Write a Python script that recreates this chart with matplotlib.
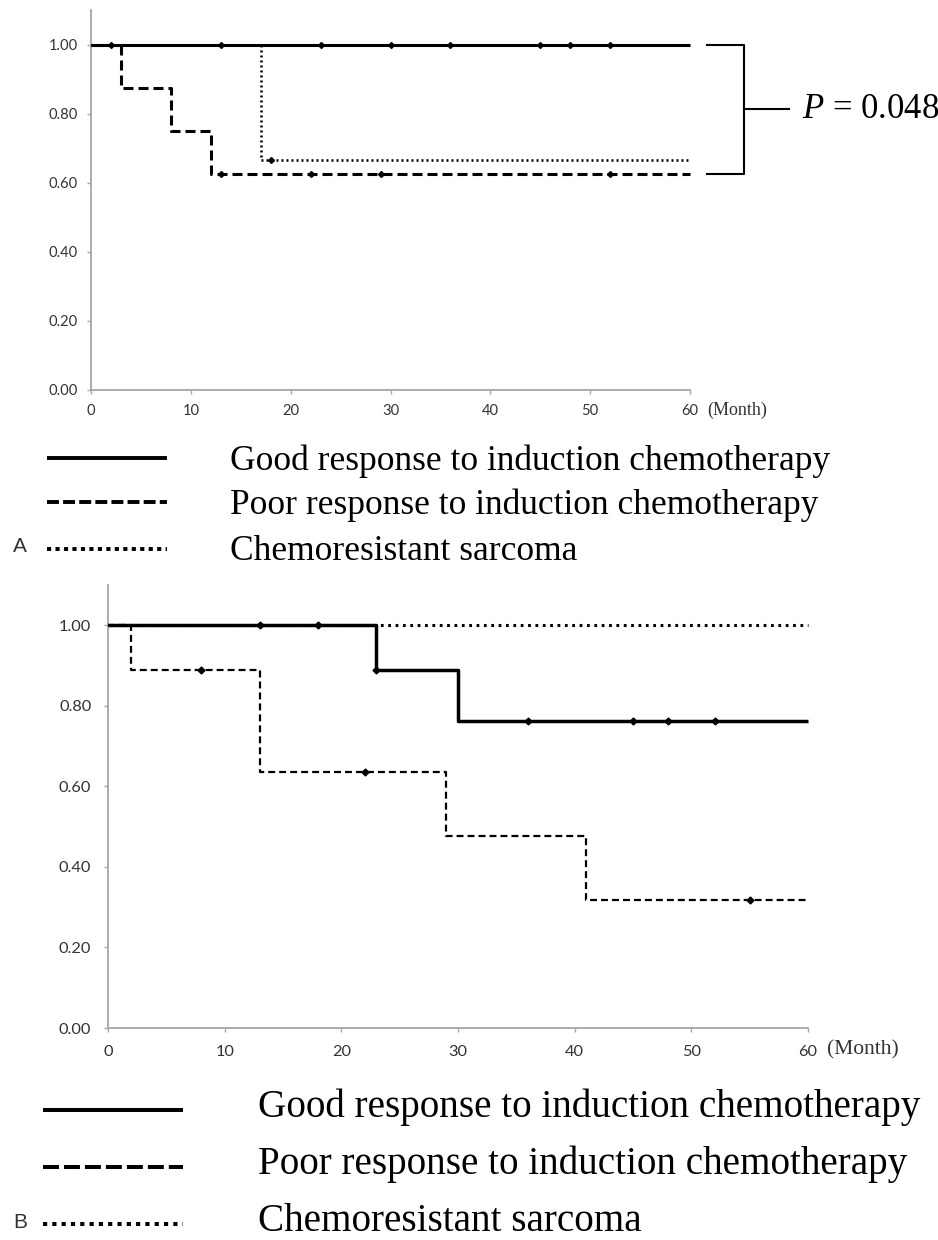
import numpy as np
import matplotlib
matplotlib.use("Agg")
import matplotlib.pyplot as plt
from matplotlib.lines import Line2D

plt.rcParams['lines.scale_dashes'] = False
plt.rcParams['mathtext.fontset'] = 'custom'
plt.rcParams['mathtext.rm'] = 'Liberation Serif'
plt.rcParams['mathtext.it'] = 'Liberation Serif:italic'

# ---------------- data ----------------
x_ticks = [0, 10, 20, 30, 40, 50, 60]
y_ticks = [0.0, 0.2, 0.4, 0.6, 0.8, 1.0]
y_ticklabels = ["0.00", "0.20", "0.40", "0.60", "0.80", "1.00"]
legend_labels = ["Good response to induction chemotherapy",
                 "Poor response to induction chemotherapy",
                 "Chemoresistant sarcoma"]

# Panel A
a_good_t = [0, 60]
a_good_s = [1.0, 1.0]
a_good_cens = [2, 13, 23, 30, 36, 45, 48, 52]
a_poor_t = [0, 3, 8, 12, 60]
a_poor_s = [1.0, 0.875, 0.75, 0.625, 0.625]
a_poor_cens = [13, 22, 29, 52]
a_chemo_t = [0, 17, 60]
a_chemo_s = [1.0, 0.667, 0.667]
a_chemo_cens = [18]
p_text = r"$\it{P}$ = 0.048"

# Panel B
b_good_t = [0, 23, 30, 60]
b_good_s = [1.0, 0.889, 0.762, 0.762]
b_good_cens = [13, 18, 23, 36, 45, 48, 52]
b_poor_t = [0, 2, 13, 29, 41, 60]
b_poor_s = [1.0, 0.889, 0.635, 0.476, 0.317, 0.317]
b_poor_cens = [8, 22, 55]
b_chemo_t = [0, 60]
b_chemo_s = [1.0, 1.0]
b_chemo_cens = []


def step_at(t, s, x):
    idx = np.searchsorted(np.asarray(t), x, side='right') - 1
    return np.asarray(s)[idx]


W, H = 938, 1240
fig = plt.figure(figsize=(W / 100, H / 100), dpi=100)


def fx(px):
    return px / W


def fy(py):
    return 1 - py / H


AX_GRAY = "#a6a6a6"
TXT_GRAY = "#333333"


def style_axes(ax, fs, ypad, xpad):
    ax.set_xlim(0, 60)
    ax.set_ylim(0, 1.1)
    for sp in ("top", "right"):
        ax.spines[sp].set_visible(False)
    for sp in ("left", "bottom"):
        ax.spines[sp].set_color(AX_GRAY)
        ax.spines[sp].set_linewidth(1.3)
    ax.set_xticks(x_ticks)
    ax.set_xticklabels([str(v) for v in x_ticks])
    ax.set_yticks(y_ticks)
    ax.set_yticklabels(y_ticklabels)
    ax.tick_params(axis='both', direction='out', length=3, width=1, color=AX_GRAY,
                   labelcolor=TXT_GRAY, labelsize=fs)
    ax.tick_params(axis='y', pad=ypad)
    ax.tick_params(axis='x', pad=xpad)
    for lab in ax.get_xticklabels() + ax.get_yticklabels():
        lab.set_fontfamily("Lato")
    ax.patch.set_visible(False)


def km(ax, t, s, cens, lw, ls, ms):
    ax.step(t, s, where='post', color='black', lw=lw, linestyle=ls,
            solid_capstyle='butt', dash_capstyle='butt', clip_on=False, zorder=3)
    if len(cens):
        cy = [step_at(t, s, c) for c in cens]
        ax.plot(cens, cy, linestyle='none', marker='D', markersize=ms,
                color='black', clip_on=False, zorder=4)


# ---------- Panel A ----------
axA = fig.add_axes([fx(91), fy(390), fx(690) - fx(91), fy(10) - fy(390)])
style_axes(axA, 10.6, 6.5, 7)
km(axA, a_chemo_t, a_chemo_s, a_chemo_cens, 1.9, (0, (1.4, 2.2)), 3)
km(axA, a_poor_t, a_poor_s, a_poor_cens, 2.2, (0, (7.2, 3.6)), 3)
km(axA, a_good_t, a_good_s, a_good_cens, 2.2, '-', 3)

# bracket with p-value
axA.plot([61.7, 65.4, 65.4, 61.7], [a_good_s[0], a_good_s[0], a_poor_s[-1], a_poor_s[-1]],
         color='black', lw=1.5, clip_on=False)
mid = (a_good_s[0] + a_poor_s[-1]) / 2
axA.plot([65.4, 69.9], [mid, mid], color='black', lw=1.5, clip_on=False)
axA.text(71.2, mid, p_text, fontsize=25, family="Liberation Serif",
         va='center', ha='left', color='black')
axA.text(61.7, -0.058, "(Month)", fontsize=13, family="Liberation Serif",
         va='center', ha='left', color=TXT_GRAY)

# ---------- Panel B ----------
axB = fig.add_axes([fx(108), fy(1028), fx(808) - fx(108), fy(585) - fy(1028)])
style_axes(axB, 11.8, 9, 9)
km(axB, b_chemo_t, b_chemo_s, b_chemo_cens, 2.2, (0, (2.0, 3.3)), 3.5)
km(axB, b_poor_t, b_poor_s, b_poor_cens, 1.6, (0, (5.0, 2.9)), 3.5)
km(axB, b_good_t, b_good_s, b_good_cens, 2.5, '-', 3.5)
axB.text(61.6, -0.054, "(Month)", fontsize=15.5, family="Liberation Serif",
         va='center', ha='left', color=TXT_GRAY)


# ---------- legends ----------
def legend_block(x0, x1, ys, tx, fs, lw, dash, dot, tdy):
    styles = ['-', (0, dash), (0, dot)]
    for y, ls, lab in zip(ys, styles, legend_labels):
        fig.add_artist(Line2D([fx(x0), fx(x1)], [fy(y), fy(y)], color='black',
                              linestyle=ls, lw=lw, solid_capstyle='butt',
                              dash_capstyle='butt'))
        fig.text(fx(tx), fy(y - tdy), lab, fontsize=fs, family="Liberation Serif",
                 va='center_baseline', ha='left', color='black')


legend_block(47, 167, [458, 502, 549], 230, 25.5, 2.8, (8.6, 3.0), (3.0, 3.1), 1)
legend_block(43, 183, [1110, 1167, 1224], 258, 28.2, 2.9, (11.5, 3.6), (3.0, 3.7), 7)

fig.text(fx(13), fy(547), "A", fontsize=15, family="Liberation Sans", color=TXT_GRAY,
         va='center', ha='left')
fig.text(fx(13), fy(1223), "B", fontsize=15, family="Liberation Sans", color=TXT_GRAY,
         va='center', ha='left')

fig.savefig("out.png", dpi=100)
